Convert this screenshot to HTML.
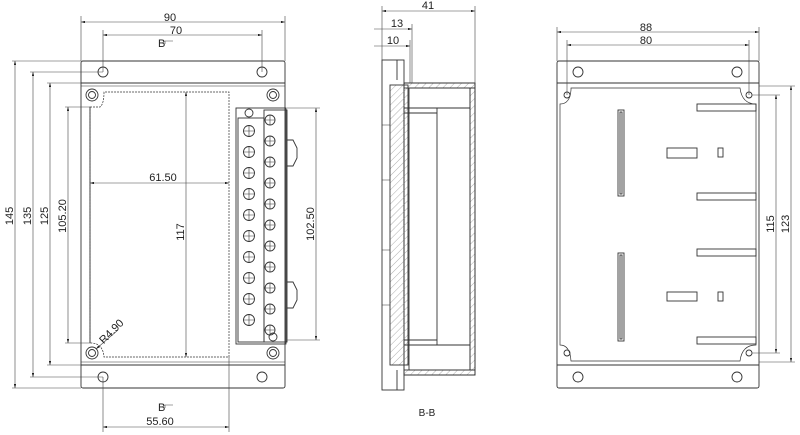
<!DOCTYPE html>
<html><head><meta charset="utf-8"><style>
html,body{margin:0;padding:0;background:#fff;}
svg{display:block;}
text{font-family:"Liberation Sans",sans-serif;font-size:11px;fill:#222;}
</style></head><body>
<svg width="800" height="435" viewBox="0 0 800 435" xmlns="http://www.w3.org/2000/svg">
<defs>
<marker id="a" viewBox="0 0 10 6" refX="10" refY="3" markerWidth="7" markerHeight="4" orient="auto-start-reverse"><path d="M0,0L10,3L0,6z" fill="#222"/></marker>
<pattern id="h" width="5" height="5" patternUnits="userSpaceOnUse" patternTransform="rotate(45)"><line x1="0" y1="0" x2="0" y2="5" stroke="#777" stroke-width="0.6"/></pattern>
</defs>
<g fill="none" stroke="#333" stroke-width="0.9">
<rect x="81" y="61" width="204" height="327" rx="2"/>
<line x1="81" y1="83" x2="285" y2="83"/>
<line x1="81" y1="365" x2="285" y2="365"/>
<circle cx="103" cy="72" r="5"/><circle cx="262" cy="72" r="5"/>
<circle cx="103" cy="377" r="5"/><circle cx="262" cy="377" r="5"/>
<circle cx="92" cy="95" r="6"/><circle cx="92" cy="95" r="3.5"/>
<circle cx="273" cy="95" r="6"/><circle cx="273" cy="95" r="3.5"/>
<circle cx="92" cy="353" r="6"/><circle cx="92" cy="353" r="3.5"/>
<circle cx="273" cy="353" r="6"/><circle cx="273" cy="353" r="3.5"/>
<path d="M81,86H285M81,362H285" stroke-width="0.6"/>
<path d="M90,107H100Q104,104 104,92H229V357H104Q103,344 92,343H90Z" stroke-dasharray="2,1" stroke-width="0.7"/>
<path d="M90,107V343" />
<rect x="236" y="108" width="50" height="236"/>
<rect x="238" y="118" width="26" height="224"/>
<rect x="264" y="110" width="23" height="232"/>
<path d="M287,140h6l4,8v10l-4,8h-6M287,282h6l4,8v10l-4,8h-6"/>
<circle cx="249" cy="113" r="4"/><circle cx="273" cy="337" r="4"/>
<g>
<circle cx="249" cy="131" r="5.5"/><circle cx="249" cy="152" r="5.5"/><circle cx="249" cy="173" r="5.5"/><circle cx="249" cy="194" r="5.5"/><circle cx="249" cy="215" r="5.5"/><circle cx="249" cy="236" r="5.5"/><circle cx="249" cy="257" r="5.5"/><circle cx="249" cy="278" r="5.5"/><circle cx="249" cy="299" r="5.5"/><circle cx="249" cy="320" r="5.5"/>
</g>
<g>
<circle cx="270" cy="120" r="5"/><circle cx="270" cy="141" r="5"/><circle cx="270" cy="162" r="5"/><circle cx="270" cy="183" r="5"/><circle cx="270" cy="204" r="5"/><circle cx="270" cy="225" r="5"/><circle cx="270" cy="246" r="5"/><circle cx="270" cy="267" r="5"/><circle cx="270" cy="288" r="5"/><circle cx="270" cy="309" r="5"/><circle cx="270" cy="330" r="5"/>
</g>
<path stroke-width="0.6" d="M243,131h12M249,125v12M243,152h12M249,146v12M243,173h12M249,167v12M243,194h12M249,188v12M243,215h12M249,209v12M243,236h12M249,230v12M243,257h12M249,251v12M243,278h12M249,272v12M243,299h12M249,293v12M243,320h12M249,314v12
M265,120h10M270,115v10M265,141h10M270,136v10M265,162h10M270,157v10M265,183h10M270,178v10M265,204h10M270,199v10M265,225h10M270,220v10M265,246h10M270,241v10M265,267h10M270,262v10M265,288h10M270,283v10M265,309h10M270,304v10M265,330h10M270,325v10"/>
</g>
<g stroke="#444" stroke-width="0.6" fill="none">
<path d="M81,61V16M285,61V16M103,72V30M262,72V30"/>
<path d="M81,61H12M103,72H30M81,83H47M90,107H65M90,343H65M81,365H47M103,377H30M81,388H12"/>
<path d="M103,377V432M229,357V432"/>
<path d="M287,108H320M287,340H320"/>
<line x1="81" y1="22" x2="285" y2="22" marker-start="url(#a)" marker-end="url(#a)"/>
<line x1="103" y1="35" x2="262" y2="35" marker-start="url(#a)" marker-end="url(#a)"/>
<line x1="15" y1="61" x2="15" y2="388" marker-start="url(#a)" marker-end="url(#a)"/>
<line x1="33" y1="72" x2="33" y2="377" marker-start="url(#a)" marker-end="url(#a)"/>
<line x1="50" y1="83" x2="50" y2="365" marker-start="url(#a)" marker-end="url(#a)"/>
<line x1="68" y1="107" x2="68" y2="343" marker-start="url(#a)" marker-end="url(#a)"/>
<line x1="90" y1="183" x2="229" y2="183" marker-start="url(#a)" marker-end="url(#a)"/>
<line x1="186" y1="92" x2="186" y2="357" marker-start="url(#a)" marker-end="url(#a)"/>
<line x1="316" y1="108" x2="316" y2="340" marker-start="url(#a)" marker-end="url(#a)"/>
<line x1="103" y1="427" x2="229" y2="427" marker-start="url(#a)" marker-end="url(#a)"/>
<line x1="118" y1="330" x2="96" y2="349" marker-end="url(#a)"/>
<path d="M165,44v-3h8M165,408v-3h8"/>
</g>
<text x="170" y="21" text-anchor="middle">90</text>
<text x="176" y="34" text-anchor="middle">70</text>
<text x="158" y="47">B</text>
<text x="158" y="411">B</text>
<text x="163" y="181" text-anchor="middle">61.50</text>
<text x="160" y="425" text-anchor="middle">55.60</text>
<text transform="translate(13,216) rotate(-90)" text-anchor="middle">145</text>
<text transform="translate(31,216) rotate(-90)" text-anchor="middle">135</text>
<text transform="translate(48,216) rotate(-90)" text-anchor="middle">125</text>
<text transform="translate(66,216) rotate(-90)" text-anchor="middle">105.20</text>
<text transform="translate(184,232) rotate(-90)" text-anchor="middle">117</text>
<text transform="translate(314,224) rotate(-90)" text-anchor="middle">102.50</text>
<text transform="translate(114,334) rotate(-45)" text-anchor="middle">R4.90</text>
<g fill="none" stroke="#333" stroke-width="0.9">
<rect x="382" y="60" width="22" height="330"/>
<rect x="404" y="83" width="71" height="292"/>
<rect x="409" y="88" width="61" height="282"/>
<rect x="390" y="85" width="18" height="280" fill="url(#h)"/>
<rect x="470" y="88" width="5" height="282" fill="url(#h)"/>
<rect x="404" y="83" width="71" height="5" fill="url(#h)"/>
<rect x="404" y="370" width="71" height="5" fill="url(#h)"/>
<path d="M397,60V80M397,370V390M404,108H470M404,345H470M437,108V345M404,113H437M404,340H437"/>
<path d="M382,125h8M382,180h8M382,250h8M382,305h8" stroke-width="0.6"/>
</g>
<g stroke="#444" stroke-width="0.6" fill="none">
<path d="M382,60V6M475,83V6M412,83V24M410,83V40"/>
<line x1="382" y1="11" x2="475" y2="11" marker-start="url(#a)" marker-end="url(#a)"/>
<line x1="374" y1="29" x2="412" y2="29" marker-end="url(#a)"/>
<line x1="374" y1="46" x2="410" y2="46" marker-end="url(#a)"/>
</g>
<text x="428" y="9" text-anchor="middle">41</text>
<text x="397" y="27" text-anchor="middle">13</text>
<text x="393" y="44" text-anchor="middle">10</text>
<text x="427" y="416" text-anchor="middle" style="font-size:10px">B-B</text>
<g fill="none" stroke="#333" stroke-width="0.9">
<rect x="557" y="61" width="202" height="327" rx="2"/>
<line x1="557" y1="83" x2="759" y2="83"/>
<line x1="557" y1="365" x2="759" y2="365"/>
<path d="M560,104Q570,104 571,90V88H740Q742,104 756,104V345Q742,345 740,361H571Q570,345 560,345Z" stroke-width="0.7"/>
<circle cx="578" cy="72" r="5"/><circle cx="737" cy="72" r="5"/>
<circle cx="578" cy="377" r="5"/><circle cx="737" cy="377" r="5"/>
<circle cx="567" cy="95" r="3"/><circle cx="749" cy="95" r="3"/>
<circle cx="567" cy="353" r="3"/><circle cx="749" cy="353" r="3"/>
<rect x="618" y="110" width="6" height="86"/><rect x="620" y="112" width="2" height="82"/>
<rect x="618" y="253" width="6" height="88"/><rect x="620" y="255" width="2" height="84"/>
<rect x="697" y="104" width="59" height="7"/><rect x="697" y="193" width="59" height="7"/>
<rect x="697" y="249" width="59" height="7"/><rect x="697" y="337" width="59" height="7"/>
<rect x="667" y="148" width="30" height="10"/><rect x="718" y="148" width="5" height="9"/>
<rect x="667" y="292" width="30" height="9"/><rect x="718" y="292" width="5" height="9"/>
</g>
<g stroke="#444" stroke-width="0.6" fill="none">
<path d="M557,61V27M759,61V27M567,95V40M749,95V40M752,95H780M752,353H780M759,86H795M759,362H795"/>
<line x1="557" y1="32" x2="759" y2="32" marker-start="url(#a)" marker-end="url(#a)"/>
<line x1="567" y1="45" x2="749" y2="45" marker-start="url(#a)" marker-end="url(#a)"/>
<line x1="776" y1="95" x2="776" y2="353" marker-start="url(#a)" marker-end="url(#a)"/>
<line x1="791" y1="86" x2="791" y2="362" marker-start="url(#a)" marker-end="url(#a)"/>
</g>
<text x="646" y="31" text-anchor="middle">88</text>
<text x="646" y="44" text-anchor="middle">80</text>
<text transform="translate(774,224) rotate(-90)" text-anchor="middle">115</text>
<text transform="translate(789,224) rotate(-90)" text-anchor="middle">123</text>
</svg>
</body></html>
